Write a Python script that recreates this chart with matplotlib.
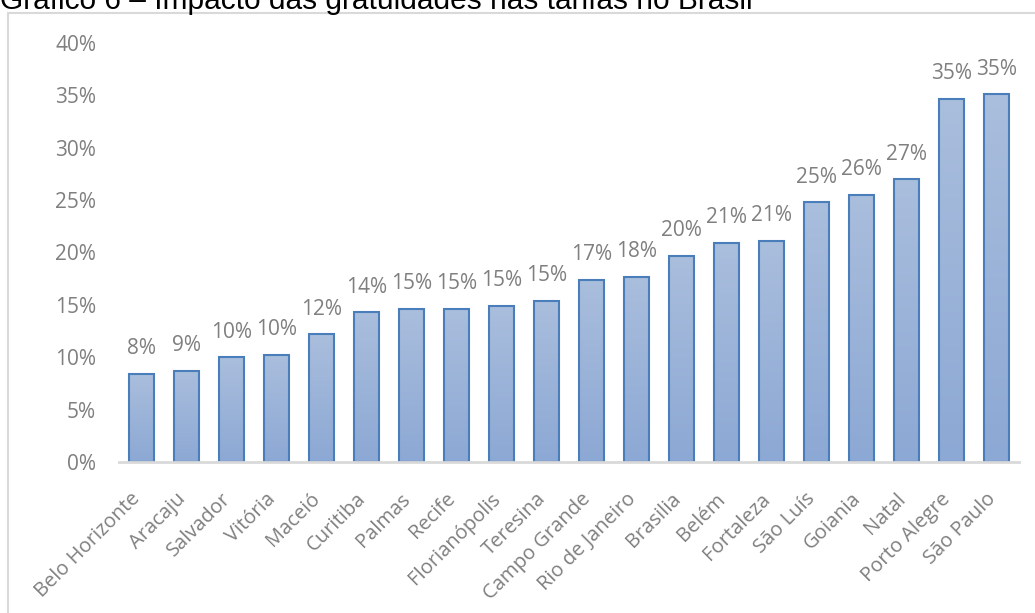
import matplotlib
matplotlib.use("Agg")
import matplotlib.pyplot as plt
from matplotlib.patches import Rectangle
from matplotlib.ticker import PercentFormatter, MultipleLocator
from matplotlib.transforms import ScaledTranslation
import numpy as np

title = "Gráfico 6 – Impacto das gratuidades nas tarifas no Brasil"
cities = ["Belo Horizonte", "Aracaju", "Salvador", "Vitória", "Maceió", "Curitiba",
          "Palmas", "Recife", "Florianópolis", "Teresina", "Campo Grande",
          "Rio de Janeiro", "Brasilia", "Belém", "Fortaleza", "São Luís", "Goiania",
          "Natal", "Porto Alegre", "São Paulo"]
values = [0.084, 0.087, 0.100, 0.102, 0.122, 0.143, 0.146, 0.146, 0.149, 0.154,
          0.174, 0.177, 0.197, 0.209, 0.211, 0.248, 0.255, 0.270, 0.347, 0.351]

W, H = 1035, 613
fig = plt.figure(figsize=(W / 100, H / 100), dpi=100)

# outer chart frame
fig.patches.append(Rectangle((8 / W, -0.1), 1.1, (H - 13) / H + 0.1,
                             transform=fig.transFigure, fill=False,
                             edgecolor="#D9D9D9", linewidth=1.5, zorder=0))

fig.text(0, 1 - 9 / H, title, fontsize=21.5, family="Liberation Sans",
         color="black", ha="left", va="baseline")

ax = fig.add_axes([119 / W, (H - 462) / H, 900 / W, 419 / H])
x = np.arange(len(cities))
bars = ax.bar(x, values, width=0.55, color="none", edgecolor="#4A7EBB",
              linewidth=1.5, zorder=3)

# vertical gradient fill for each bar
grad = np.linspace(0, 1, 256).reshape(-1, 1)
top_c = np.array([0xAA, 0xBE, 0xDD]) / 255
bot_c = np.array([0x8C, 0xA8, 0xD4]) / 255
img = top_c[None, None, :] * (1 - grad[:, :, None]) + bot_c[None, None, :] * grad[:, :, None]
for b in bars:
    x0, y0, w, h = b.get_x(), b.get_y(), b.get_width(), b.get_height()
    ax.imshow(img, extent=(x0, x0 + w, y0, y0 + h), aspect="auto", zorder=2,
              interpolation="bilinear")

ax.set_xlim(-0.5, len(cities) - 0.5)
ax.set_ylim(0, 0.40)
ax.yaxis.set_major_locator(MultipleLocator(0.05))
ax.yaxis.set_major_formatter(PercentFormatter(1.0, decimals=0))

lab_font = "Open Sans"
fs = 15
for xi, v in zip(x, values):
    ax.text(xi, v + 0.014, f"{v * 100:.0f}%", ha="center", va="bottom",
            fontsize=fs, color="#7F7F7F", family=lab_font)

# category labels (rotated), placed under each tick
ax.set_xticks(x)
ax.set_xticklabels([""] * len(cities))
lab_tr = ax.get_xaxis_transform() + ScaledTranslation(-11 / 100, -27 / 100,
                                                      fig.dpi_scale_trans)
for xi, c in zip(x, cities):
    ax.text(xi, 0, c, transform=lab_tr, rotation=45, ha="right", va="top",
            rotation_mode="anchor", fontsize=14.5, color="#7F7F7F",
            family=lab_font, clip_on=False)

for t in ax.get_yticklabels():
    t.set_fontsize(fs)
    t.set_color("#7F7F7F")
    t.set_family(lab_font)

ax.tick_params(axis="both", length=0)
ax.tick_params(axis="y", pad=16.5)
for s in ["top", "right", "left"]:
    ax.spines[s].set_visible(False)
ax.spines["bottom"].set_color("#D9D9D9")
ax.spines["bottom"].set_linewidth(2)
ax.spines["bottom"].set_zorder(4)
ax.set_facecolor("none")

fig.savefig("out.png", dpi=100)
